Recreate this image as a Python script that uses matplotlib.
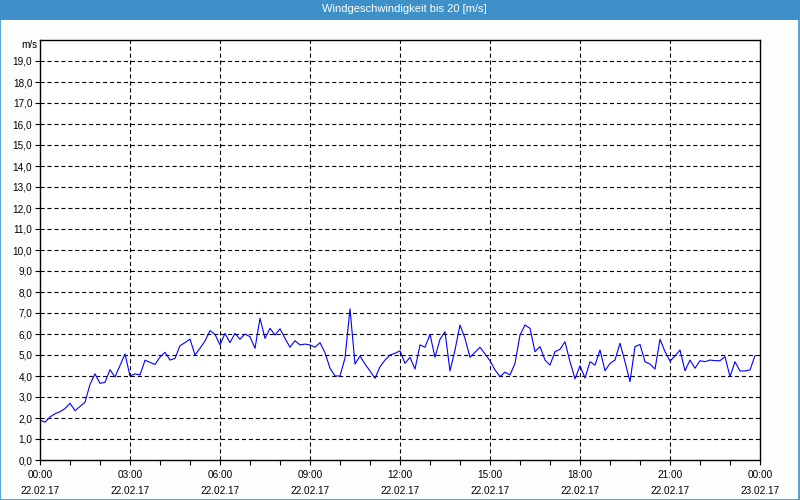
import matplotlib
matplotlib.use("Agg")
import matplotlib.pyplot as plt
from matplotlib.patches import Rectangle
from matplotlib.ticker import MultipleLocator

plt.rcParams['font.family'] = ['Liberation Sans', 'DejaVu Sans']
plt.rcParams['lines.scale_dashes'] = False

title = "Windgeschwindigkeit bis 20 [m/s]"
unit_label = "m/s"

# 10-minute readings from 00:00 to 23:50
step_minutes = 10
wind_speed = [
    1.9, 1.8, 2.05, 2.2, 2.3, 2.45,
    2.7, 2.35, 2.55, 2.75, 3.6, 4.1,
    3.65, 3.7, 4.3, 3.95, 4.5, 5.05,
    4.0, 4.1, 4.05, 4.75, 4.65, 4.55,
    4.9, 5.13, 4.76, 4.84, 5.44, 5.59,
    5.76, 5.0, 5.32, 5.67, 6.16, 5.98,
    5.48, 6.03, 5.59, 6.03, 5.75, 6.0,
    5.87, 5.32, 6.75, 5.79, 6.27, 5.95,
    6.25, 5.79, 5.37, 5.68, 5.48, 5.52,
    5.48, 5.37, 5.59, 5.11, 4.37, 4.0,
    4.0, 4.85, 7.2, 4.57, 4.95, 4.57,
    4.24, 3.89, 4.44, 4.76, 5.0, 5.08,
    5.2, 4.6, 4.89, 4.33, 5.48, 5.37,
    5.98, 4.89, 5.75, 6.11, 4.24, 5.24,
    6.43, 5.79, 4.89, 5.13, 5.37, 5.05,
    4.73, 4.29, 3.97, 4.18, 4.05, 4.6,
    5.95, 6.43, 6.27, 5.16, 5.4, 4.76,
    4.52, 5.16, 5.27, 5.63, 4.68, 3.86,
    4.49, 3.9, 4.68, 4.52, 5.24, 4.25,
    4.6, 4.76, 5.56, 4.68, 3.73, 5.4,
    5.5, 4.68, 4.57, 4.33, 5.75, 5.16,
    4.71, 4.95, 5.24, 4.25, 4.76, 4.37,
    4.73, 4.68, 4.76, 4.73, 4.73, 4.92,
    3.97, 4.68, 4.24, 4.24, 4.29, 4.97,
]
hours = [i * step_minutes / 60 for i in range(len(wind_speed))]

x_tick_hours = [0, 3, 6, 9, 12, 15, 18, 21, 24]
x_tick_times = ["00:00", "03:00", "06:00", "09:00", "12:00", "15:00", "18:00", "21:00", "00:00"]
x_tick_dates = ["22.02.17"] * 8 + ["23.02.17"]
y_ticks = list(range(0, 20))
y_tick_labels = [f"{v},0" for v in y_ticks]

fig = plt.figure(figsize=(8, 5), dpi=100, facecolor="#fcfefc")
ax = fig.add_axes([0.05, 0.08, 0.90, 0.84])
ax.set_facecolor("white")

ax.plot(hours, wind_speed, color="#0000ff", lw=0.8)

ax.set_xlim(0, 24)
ax.set_ylim(0, 20)
ax.set_xticks(x_tick_hours)
ax.set_xticklabels([f"{t}\n{d}" for t, d in zip(x_tick_times, x_tick_dates)],
                   fontsize=7.2, linespacing=1.75)
ax.xaxis.set_minor_locator(MultipleLocator(1))
ax.set_yticks(y_ticks)
ax.set_yticklabels(y_tick_labels, fontsize=7.2)

ax.tick_params(axis="both", which="both", direction="out", length=3.5, width=0.8,
               color="black", pad=2)
ax.tick_params(axis="x", which="major", pad=4)

for v in range(1, 20):
    ax.axhline(v, color="black", lw=0.8, dashes=(3, 2), zorder=0.5)
for h in x_tick_hours[1:-1]:
    ax.axvline(h, color="black", lw=0.8, dashes=(3, 2), zorder=0.5)

for s in ax.spines.values():
    s.set_color("black")
    s.set_linewidth(1.0)

ax.text(-0.004, 20 - 0.25, unit_label, transform=ax.get_yaxis_transform(),
        ha="right", va="center", fontsize=7.2)

# title bar and border
fig.patches.append(Rectangle((0, 0.96), 1, 0.04, transform=fig.transFigure,
                             facecolor="#3d91c8", edgecolor="none", zorder=0))
fig.patches.append(Rectangle((0.0006, 0.001), 0.9985, 0.99, transform=fig.transFigure,
                             facecolor="none", edgecolor="#3d91c8", lw=1.2, zorder=0))
fig.text(0.505, 0.981, title, color="white", ha="center", va="center", fontsize=8)

fig.savefig("out.png", dpi=100, facecolor=fig.get_facecolor())
